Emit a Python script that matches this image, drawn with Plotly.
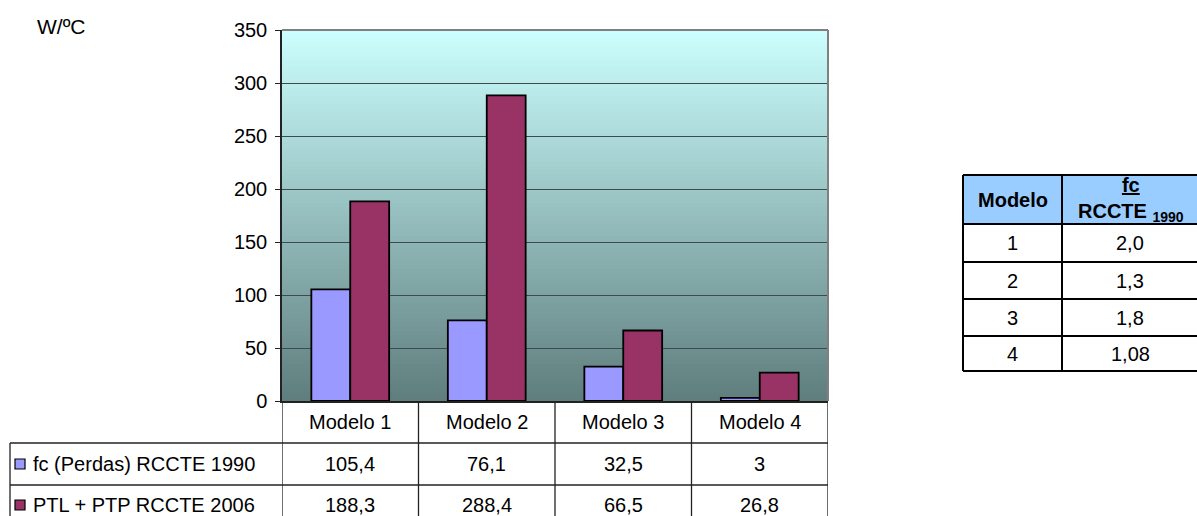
import plotly.graph_objects as go

# ---- data ----
categories = ["Modelo 1", "Modelo 2", "Modelo 3", "Modelo 4"]
series_names = ["fc (Perdas) RCCTE 1990", "PTL + PTP RCCTE 2006"]
fc_perdas_1990 = [105.4, 76.1, 32.5, 3]
ptl_ptp_2006 = [188.3, 288.4, 66.5, 26.8]
series_colors = ["#9999FF", "#993366"]
y_ticks = [0, 50, 100, 150, 200, 250, 300, 350]
y_unit = "W/ºC"

side_header = ["Modelo", "<b><u>fc</u></b><br><b>RCCTE <sub>1990</sub></b>"]
side_modelo = ["1", "2", "3", "4"]
side_fc = ["2,0", "1,3", "1,8", "1,08"]

W, H = 1197, 516
FONT = "Liberation Sans, Arial, sans-serif"


def fx(px):
    return px / W


def fy(py):
    return 1 - py / H


def fmt(v):
    return f"{v:g}".replace(".", ",")


def txt(text, x, y, xref="paper", xanchor="center", size=20):
    return dict(x=x, y=y, xref=xref, yref="paper", text=text, showarrow=False,
                xanchor=xanchor, yanchor="middle",
                font=dict(size=size, color="black", family=FONT))


series_values = [fc_perdas_1990, ptl_ptp_2006]

fig = go.Figure()
for name, vals, col in zip(series_names, series_values, series_colors):
    fig.add_trace(go.Bar(
        x=categories, y=vals, name=name,
        marker=dict(color=col, line=dict(color="black", width=1.8)),
        showlegend=False,
    ))

shapes = []
annotations = []

# gradient background of plot area
n_bands = 90
top = (204, 255, 255)
bot = (95, 125, 125)
for i in range(n_bands):
    t = (i + 0.5) / n_bands  # 0 bottom -> 1 top
    c = tuple(round(bot[k] + (top[k] - bot[k]) * t) for k in range(3))
    shapes.append(dict(type="rect", xref="x domain", yref="y domain",
                       x0=0, x1=1, y0=i / n_bands, y1=(i + 1) / n_bands + 0.002,
                       fillcolor=f"rgb{c}", line=dict(width=0), layer="below"))

# gray frame top/right
shapes.append(dict(type="line", xref="x domain", yref="y domain", x0=0, x1=1, y0=1, y1=1,
                   line=dict(color="#808080", width=2)))
shapes.append(dict(type="line", xref="x domain", yref="y domain", x0=1, x1=1, y0=0, y1=1,
                   line=dict(color="#808080", width=2)))

# ---- data table below the chart ----
row_header_c = 422
row_c = [464, 505]
line_col = "#222222"
for py in [443, 485]:
    shapes.append(dict(type="line", xref="paper", yref="paper",
                       x0=fx(10), x1=fx(828), y0=fy(py), y1=fy(py),
                       line=dict(color=line_col, width=1.3)))
shapes.append(dict(type="line", xref="paper", yref="paper",
                   x0=fx(10), x1=fx(10), y0=fy(443), y1=fy(530),
                   line=dict(color=line_col, width=1.3)))
for k in range(len(categories) + 1):
    shapes.append(dict(type="line", xref="x", yref="paper",
                       x0=k - 0.5, x1=k - 0.5, y0=fy(401), y1=fy(530),
                       line=dict(color=line_col, width=1.3)))

for c in categories:
    annotations.append(txt(c, c, fy(row_header_c), xref="x"))
for r, (name, vals, col) in enumerate(zip(series_names, series_values, series_colors)):
    for c, v in zip(categories, vals):
        annotations.append(txt(fmt(v), c, fy(row_c[r]), xref="x"))
    shapes.append(dict(type="rect", xref="paper", yref="paper",
                       x0=fx(15), x1=fx(25), y0=fy(row_c[r] - 5), y1=fy(row_c[r] + 5),
                       fillcolor=col, line=dict(color="black", width=1.2)))
    annotations.append(txt(name, fx(31), fy(row_c[r]), xanchor="left"))

# y unit label
annotations.append(txt(y_unit, fx(35), fy(27), xanchor="left", size=21))

# ---- side table ----
tx0, tx1, tx2 = 963, 1062, 1215
ty = [175, 224, 262, 299, 336, 371]
shapes.append(dict(type="rect", xref="paper", yref="paper",
                   x0=fx(tx0), x1=fx(tx2), y0=fy(ty[0]), y1=fy(ty[1]),
                   fillcolor="#99CCFF", line=dict(width=0)))
for py in ty:
    shapes.append(dict(type="line", xref="paper", yref="paper",
                       x0=fx(tx0), x1=fx(tx2), y0=fy(py), y1=fy(py),
                       line=dict(color="black", width=2)))
for px in [tx0, tx1]:
    shapes.append(dict(type="line", xref="paper", yref="paper",
                       x0=fx(px), x1=fx(px), y0=fy(ty[0]), y1=fy(ty[-1]),
                       line=dict(color="black", width=2)))
annotations.append(txt("<b>" + side_header[0] + "</b>", fx((tx0 + tx1) / 2), fy((ty[0] + ty[1]) / 2)))
annotations.append(txt(side_header[1], fx(1131), fy((ty[0] + ty[1]) / 2)))
for i, (m, v) in enumerate(zip(side_modelo, side_fc)):
    cy = (ty[i + 1] + ty[i + 2]) / 2
    annotations.append(txt(m, fx((tx0 + tx1) / 2), fy(cy)))
    annotations.append(txt(v, fx(1130), fy(cy)))

fig.update_layout(
    width=W, height=H, autosize=False,
    margin=dict(l=0, r=0, t=0, b=0),
    paper_bgcolor="white", plot_bgcolor="rgba(0,0,0,0)",
    barmode="group", bargap=0.43, bargroupgap=0,
    font=dict(family=FONT, size=20, color="black"),
    xaxis=dict(domain=[fx(282), fx(828)], range=[-0.5, 3.5], showticklabels=False,
               ticks="", showgrid=False, showline=True, linecolor="#222222", linewidth=1.5,
               zeroline=False, fixedrange=True, automargin=False),
    yaxis=dict(domain=[fy(401), fy(30)], range=[0, 350], tickvals=y_ticks,
               ticks="outside", ticklen=5, tickcolor="#222222", tickwidth=1.2,
               showline=True, linecolor="#222222", linewidth=1.5,
               showgrid=True, gridcolor="#3f4a4a", gridwidth=1.2,
               zeroline=False, tickfont=dict(size=20, family=FONT, color="black"),
               ticklabelstandoff=4,
               fixedrange=True, automargin=False),
    shapes=shapes, annotations=annotations,
)

fig.write_html(
    "out.html",
    config={"displayModeBar": False},
    post_script="document.body.style.margin='0';document.body.style.overflow='hidden';",
)
